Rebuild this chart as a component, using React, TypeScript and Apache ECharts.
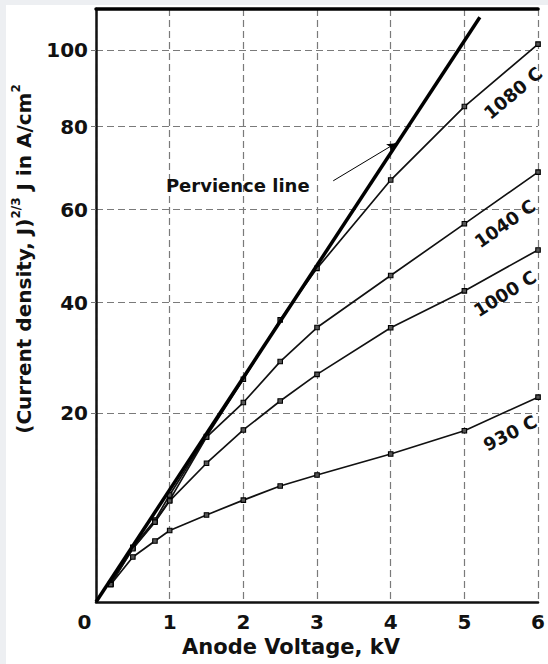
import React, { useEffect, useRef } from "react";
import * as echarts from "echarts";

// Anode voltage (kV) at which each curve was measured
const voltages = [0.2, 0.5, 0.8, 1, 1.5, 2, 2.5, 3, 4, 5, 6];
// Plotted ordinate: J^(2/3), J in A/cm^2
const j23_1080 = [0.72, 2.14, 3.2, 4.18, 6.46, 8.7, 11.02, 13.03, 16.48, 19.35, 21.79];
const j23_1040 = [0.7, 2.1, 3.15, 3.98, 6.44, 7.79, 9.39, 10.72, 12.75, 14.77, 16.79];
const j23_1000 = [0.7, 2.08, 3.12, 3.95, 5.42, 6.72, 7.85, 8.89, 10.71, 12.15, 13.75];
const j23_930 = [0.68, 1.76, 2.38, 2.79, 3.4, 3.98, 4.53, 4.96, 5.78, 6.69, 8.0];
const seriesNames = ["1080 C", "1040 C", "1000 C", "930 C"];
// Perveance line end points
const perveanceV = [0, 5.21];
const perveanceJ23 = [0, 22.84];
// Y tick labels are J values, placed at J^(2/3)
const yTickJ = [20, 40, 60, 80, 100];
const xTicks = [0, 1, 2, 3, 4, 5, 6];

const FONT = "DejaVu Sans";
const INK = "#111";

export default function App() {
  const ref = useRef<HTMLDivElement>(null);

  useEffect(() => {
    const chart = echarts.init(ref.current!, null, { renderer: "svg" });
    const yTickPos = yTickJ.map((j) => Math.pow(j, 2 / 3));

    const labelSpots: Record<string, { x: number; y: number; rot: number }> = {
      "1080 C": { x: 5.66, y: 19.88, rot: 40 },
      "1040 C": { x: 5.55, y: 14.78, rot: 35 },
      "1000 C": { x: 5.55, y: 12.05, rot: 32 },
      "930 C": { x: 5.62, y: 6.6, rot: 27 },
    };
    const allData = [j23_1080, j23_1040, j23_1000, j23_930];

    const curveSeries = seriesNames.map((name, k) => ({
      name,
      type: "line",
      xAxisIndex: 0,
      data: voltages.map((v, i) => [v, allData[k][i]]),
      symbol: "rect",
      symbolSize: 4.5,
      lineStyle: { color: INK, width: 1.7 },
      itemStyle: { color: "#555", borderColor: "#000", borderWidth: 1.1 },
      z: 3,
      markPoint: {
        silent: true,
        symbol: "rect",
        symbolSize: 0,
        data: [
          {
            coord: [labelSpots[name].x, labelSpots[name].y],
            label: {
              show: true,
              position: "inside",
              formatter: name,
              rotate: labelSpots[name].rot,
              fontSize: 18,
              fontWeight: "bold",
              fontFamily: FONT,
              color: INK,
            },
          },
        ],
      },
    }));

    const option: any = {
      animation: false,
      backgroundColor: "#fff",
      grid: { left: 90, top: 4, right: 6, bottom: 62 },
      xAxis: [
        {
          type: "value",
          min: 0,
          max: 6,
          interval: 1,
          name: "Anode Voltage, kV",
          nameLocation: "middle",
          nameGap: 32,
          nameTextStyle: {
            fontSize: 21,
            fontWeight: "bold",
            fontFamily: FONT,
            color: INK,
            padding: [0, 52, 0, 0],
          },
          axisLine: { show: true, onZero: false, lineStyle: { color: INK, width: 2.5 } },
          axisTick: { show: false },
          axisLabel: {
            margin: 10,
            fontSize: 20,
            fontWeight: "bold",
            fontFamily: FONT,
            color: INK,
            formatter: (v: number) => (v === 0 ? "{z|0}" : String(v)),
            rich: {
              z: { padding: [0, 23, 0, 0], fontSize: 20, fontWeight: "bold", fontFamily: FONT, color: INK },
            },
          },
          splitLine: { show: true, lineStyle: { color: "#7a7a7a", type: [7, 4], width: 1.2 } },
        },
        {
          type: "value",
          position: "top",
          min: 0,
          max: 6,
          axisLine: { show: true, onZero: false, lineStyle: { color: "#000", width: 3.5 } },
          axisTick: { show: false },
          axisLabel: { show: false },
          splitLine: { show: false },
        },
      ],
      yAxis: {
        type: "value",
        min: 0,
        max: 23.16,
        axisLine: { show: true, onZero: false, lineStyle: { color: INK, width: 2.5 } },
        axisTick: { show: true, length: 5, customValues: yTickPos, lineStyle: { color: "#777" } },
        axisLabel: {
          customValues: yTickPos,
          margin: 8,
          fontSize: 20,
          fontWeight: "bold",
          fontFamily: FONT,
          color: INK,
          formatter: (v: number) => String(Math.round(Math.pow(v, 1.5))),
        },
        splitLine: { show: true, lineStyle: { color: "#7a7a7a", type: [7, 4], width: 1.2 } },
      },
      graphic: [
        {
          type: "text",
          x: 16,
          y: 254,
          rotation: Math.PI / 2,
          silent: true,
          style: {
            text: "{a|(Current density, J)}{s|2/3}{a| J in A/cm}{s|2}",
            align: "center",
            verticalAlign: "middle",
            rich: {
              a: { fontSize: 20, fontWeight: "bold", fontFamily: FONT, fill: INK, verticalAlign: "bottom", lineHeight: 24 },
              s: { fontSize: 12, fontWeight: "bold", fontFamily: FONT, fill: INK, verticalAlign: "top", lineHeight: 14 },
            },
          },
        },
      ],
      series: [
        ...curveSeries,
        {
          name: "Perveance",
          type: "line",
          xAxisIndex: 0,
          data: perveanceV.map((v, i) => [v, perveanceJ23[i]]),
          symbol: "none",
          lineStyle: { color: "#000", width: 3.5 },
          z: 4,
          markLine: {
            silent: true,
            symbol: ["none", "arrow"],
            symbolSize: [6, 9],
            label: { show: false },
            lineStyle: { color: "#000", width: 1, type: "solid" },
            data: [[{ coord: [3.22, 16.45] }, { coord: [4.07, 17.92] }]],
          },
          markPoint: {
            silent: true,
            symbol: "rect",
            symbolSize: 0,
            data: [
              {
                coord: [1.924, 16.25],
                label: {
                  show: true,
                  position: "inside",
                  formatter: "Pervience line",
                  fontSize: 18,
                  fontWeight: "bold",
                  fontFamily: FONT,
                  color: INK,
                },
              },
            ],
          },
        },
      ],
    };
    chart.setOption(option);
    return () => chart.dispose();
  }, []);

  return (
    <div style={{ position: "fixed", left: 0, top: 0, width: 548, height: 664, background: "#edeff2" }}>
      <div ref={ref} style={{ position: "absolute", left: 6, top: 5, width: 542, height: 659, background: "#fff" }} />
    </div>
  );
}
